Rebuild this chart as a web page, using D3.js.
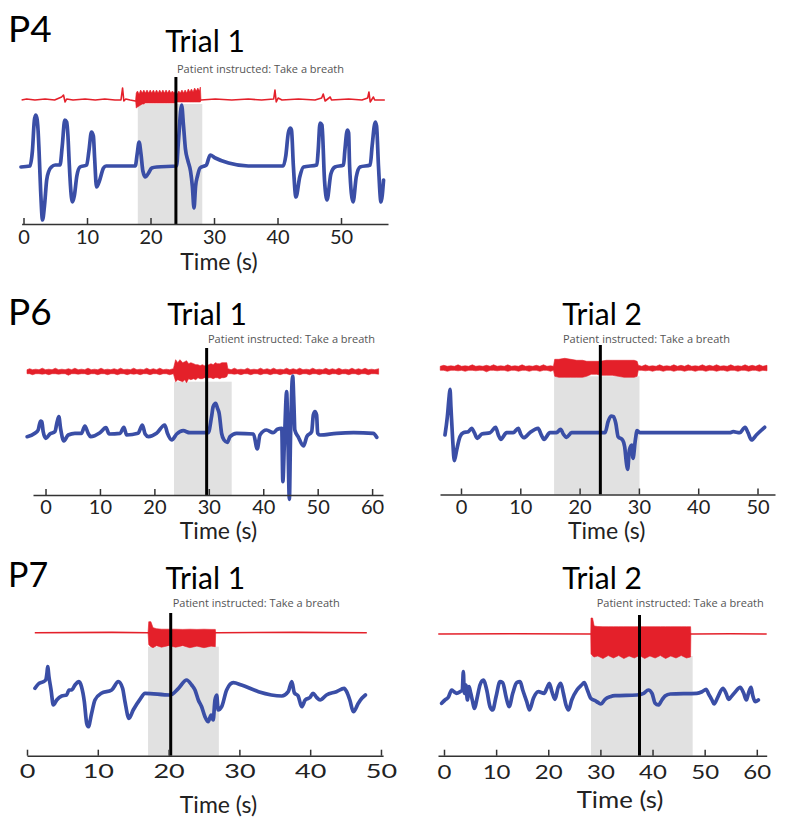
<!DOCTYPE html>
<html><head><meta charset="utf-8">
<script src="https://cdn.jsdelivr.net/npm/d3@7"></script>
<style>body{margin:0;background:#fff}svg{display:block}</style>
</head><body>
<svg id="chart" width="800" height="820"></svg>
<script>
// ---------------- DATA ----------------
const patientLabels = ["P4", "P6", "P7"];
const trialLabels = ["Trial 1", "Trial 1", "Trial 2", "Trial 1", "Trial 2"];
const noteText = "Patient instructed: Take a breath";
const axisTitle = "Time (s)";
const ticksP4 = [0, 10, 20, 30, 40, 50];
const ticksP6T1 = [0, 10, 20, 30, 40, 50, 60];
const ticksP6T2 = [0, 10, 20, 30, 40, 50];
const ticksP7T1 = [0, 10, 20, 30, 40, 50];
const ticksP7T2 = [0, 10, 20, 30, 40, 50, 60];
// time of instruction (s)
const cueTimes = [24.0, 29.6, 23.5, 20.3, 37.5];
// breath-hold windows (s)
const breathWindows = [[18.0, 28.15], [23.6, 34.2], [15.7, 30.1], [17.1, 27.1], [28.2, 47.7]];

// blue traces [t, value]
const p4Blue = [[-0.4,-1],[1.0,0],[1.4,15],[1.7,45],[1.9,51],[2.1,48],[2.3,35],[2.45,15],[2.7,-25],[3.0,-54],[3.3,-40],[3.65,-14],[4.0,-5],[4.4,-1],[5.0,1],[5.75,1],[6.1,20],[6.5,46],[6.8,44],[7.0,30],[7.2,3],[7.4,-20],[7.7,-36],[8.0,-30],[8.4,-10],[8.9,-1],[9.95,1],[10.3,15],[10.7,34],[11.0,30],[11.2,8],[11.5,-21],[11.9,-16],[12.6,-2],[13,0],[17.6,0],[17.9,12],[18.2,24],[18.5,12],[18.8,-5],[19.2,-11],[19.6,-8],[20.2,-2],[21,-1],[24.1,0],[24.4,25],[24.9,61],[25.2,40],[25.5,17],[25.9,5],[26.3,-5],[26.6,-21],[26.85,-42],[27.1,-20],[27.4,-10],[27.8,-2],[28.5,0],[28.8,1],[29.4,11],[30.2,8],[32.3,3],[35.4,0],[40.9,0],[41.3,10],[41.7,33],[42.0,38],[42.2,36],[42.5,0],[42.9,-31],[43.5,-11],[44.1,-1],[46.2,1],[46.4,15],[46.7,43],[47.0,41],[47.4,-14],[47.8,-34],[48.4,-8],[49.05,-1],[50.4,1],[50.6,15],[51.0,36],[51.2,33],[51.35,0],[51.9,-36],[52.4,-11],[53.0,-1],[54.6,1],[54.9,20],[55.4,44],[55.6,40],[55.9,0],[56.3,-36],[56.7,-14]];
const p6t1Blue = [[-3.37,-3.4],[-1.96,0],[-1.35,3.3],[-0.92,12.3],[-0.67,11.6],[-0.43,1.6],[0.06,-5],[0.8,-0.7],[1.72,1.6],[2.14,11.6],[2.45,16.6],[2.76,5],[3.37,-7.7],[4.17,-1.7],[5.4,0],[6.6,0],[7.23,7.3],[7.84,0],[8.27,-3.3],[10.0,0.6],[11.1,5.6],[11.7,-0.7],[13.7,0],[14.4,6],[14.9,-1.7],[17.0,0],[17.8,8.3],[18.3,-0.7],[18.9,-3.3],[20.4,0],[21.9,8.3],[22.4,0],[23.2,-6.7],[24.1,-0.7],[25.3,2.6],[26.5,0.6],[29.9,0.6],[30.5,16.6],[30.8,26.6],[31.25,30],[31.6,25],[31.9,20],[32.35,0],[32.8,-6.7],[33.4,-9],[33.9,-3.3],[35.1,0],[38.2,-0.7],[38.9,-15.7],[39.4,-1.7],[40.6,3.3],[41.8,0.6],[42.6,4],[43.4,5],[43.6,-48.4],[43.9,-6.7],[44.3,41.6],[44.5,3.3],[44.8,-66],[45.0,-6.7],[45.4,57.3],[45.65,26.6],[45.8,3.3],[46.4,-3.3],[47.4,-12.7],[48.0,-3.3],[48.9,1.6],[49.2,18.3],[49.5,21.6],[49.8,18.3],[50.0,0],[50.4,-1.7],[53.5,0],[56.6,0.6],[60.2,0],[60.85,-4]];
const p6t2Blue = [[-2.7,-2.3],[-2.3,16],[-2.0,36],[-1.85,43.4],[-1.7,26],[-1.4,-7.3],[-1.12,-28],[-0.73,-17.3],[-0.17,-4],[0.39,0],[1.24,1],[1.8,4.4],[2.25,0],[2.75,-5.6],[3.5,-1.3],[4.9,0],[5.85,5.4],[6.3,-2.3],[6.7,-6.6],[7.7,0],[8.8,0],[9.66,4.4],[10.06,-1.3],[10.6,-5],[11.6,0],[13.0,4.4],[13.5,-1.6],[14.0,-6.6],[15.0,0],[16.1,0],[16.8,3.4],[17.25,-1.3],[17.8,-4.6],[18.65,0],[24.3,0],[24.8,11],[25.3,16.7],[25.7,16],[26.1,9.4],[26.5,-4],[27.25,-7.3],[27.6,-14],[27.9,-30.6],[28.1,-36.6],[28.4,-17.3],[28.8,-12.3],[29.0,-25.6],[29.4,-7.3],[29.7,2],[30.2,0],[45.3,0],[45.9,1],[47.0,0],[47.9,5.4],[48.4,0],[49.0,-7.3],[49.8,-2.3],[51.2,5.4]];
const p7t1Blue = [[1.13,6.7],[1.6,11],[2.3,13.3],[2.64,15],[2.82,21.7],[2.92,28.3],[3.1,18.3],[3.4,5],[3.72,-10],[4.2,-5],[4.9,-1],[5.6,0],[5.93,5],[6.3,5],[6.78,10],[7.34,13.3],[7.7,8.3],[8.1,-6.7],[8.43,-28.3],[8.66,-31.7],[9.13,-18.3],[9.6,-5],[10.5,1.7],[11.96,5],[12.9,13.3],[13.5,6.7],[13.84,-6.7],[14.4,-23.3],[15.0,-15],[15.96,-4.3],[16.67,1.7],[20.2,0],[21.4,6.7],[22.55,15],[23.26,10],[23.73,5],[24.2,-5],[24.67,-11.7],[25.14,-21.7],[25.6,-26.7],[26.0,-20],[26.3,-25],[26.55,-5],[26.8,0],[27.0,-15],[27.5,-11.7],[28.2,5],[29.14,12.3],[30.3,10],[32.7,3.3],[36.0,-1],[36.9,3.3],[37.4,13.3],[37.76,2.3],[38.3,-1],[38.8,-11.7],[39.3,-5],[40.0,-2.3],[40.4,1.7],[40.9,-2.3],[41.4,-5],[42.3,0],[43.7,3.3],[44.8,6.7],[45.15,3.3],[45.6,-5],[46.1,-16.7],[46.8,-8.3],[47.3,-3.3],[47.8,0]];
const p7t2Blue = [[-0.45,-10.3],[0.19,-7],[0.83,-4.3],[1.47,3],[1.92,1.3],[2.43,-0.3],[3.07,1.3],[3.52,3],[3.71,21.3],[3.9,-0.3],[4.22,8],[4.48,-7],[4.8,6.3],[5.12,0],[5.5,-8.7],[5.82,-15.3],[6.4,-3.7],[6.9,8],[7.55,13],[8.2,3],[8.83,-13.7],[9.34,-17],[9.98,-3.7],[10.75,11.3],[11.26,10.3],[11.9,-3.7],[12.48,-13.7],[13.2,0],[13.95,10.3],[14.6,11.3],[15.1,3],[15.87,-8.7],[16.4,-17],[17.15,-5.3],[18.1,1.3],[19.2,-0.3],[19.8,5.7],[20.2,9.7],[20.7,1.3],[21.3,-6.3],[21.9,5.7],[22.4,9.7],[22.9,-0.3],[23.4,-12],[23.9,-17],[24.5,-7],[25.5,3],[26.4,8],[26.9,10.3],[27.5,3],[28.15,-5.3],[29.0,-7.7],[29.6,-9.7],[30.1,-11],[30.9,-6.3],[31.9,-3.7],[32.8,-2.7],[37.0,-2],[38.3,-0.3],[39.2,3],[39.9,-0.3],[40.5,-10.3],[41.1,-12],[41.8,-7],[42.4,-3],[43.4,-1],[48.5,-0.3],[49.5,1.3],[50.3,3.7],[50.7,-0.3],[51.4,-7],[51.8,-11],[52.5,-4.3],[53.5,4.7],[54.1,-0.3],[54.6,-6.3],[55.0,-4.3],[55.9,1.3],[56.8,5.7],[57.45,0.3],[58.0,-7],[58.4,-0.3],[58.9,5.7],[59.2,-2],[59.7,-8.7],[60.3,-7]];

// red traces: thin line [t, value]
const p4RedLine = [[-0.3,0],[0.5,1],[1.8,0],[3.4,1],[4.9,0],[6.0,3],[6.3,5],[6.55,-2],[6.8,1],[7.8,0],[9.7,1],[11.3,0],[12.8,1],[14.4,0],[15.35,0],[15.6,12],[15.8,-1],[16.1,1],[16.8,0],[17.6,-1],[27.95,0],[30.2,1],[32.8,0],[35.4,1],[37.5,0],[39.4,1],[39.6,10],[39.8,-2],[40.1,2],[40.7,0],[43.3,1],[45.9,0],[46.95,2],[47.2,6],[47.5,-1],[48.3,3],[48.5,0],[51.2,1],[53.3,0],[54.2,2],[54.4,8],[54.6,-2],[55.1,3],[55.3,0],[56.9,0]];
const p7t1RedLine = [[1.1,0],[12,0.3],[17.1,0],[27,0],[38,0.3],[48,0]];
const p7t2RedLine = [[-1.1,0],[14,0.3],[28.1,0],[48,0],[55,0.3],[61.9,0]];
// red dense activity envelopes [t, upper, lower]
const p4RedEnv = [[17.65,0,0],[17.75,7,-8],[17.95,9,-7],[18.2,6,-6],[18.45,10,-5],[18.7,7,-4],[18.95,10,-4],[19.2,7,-3],[19.45,10,-3],[19.7,7,-3],[19.95,10,-3],[20.2,7,-3],[20.45,10,-3],[20.7,7,-3],[20.95,10,-3],[21.2,7,-3],[21.45,10,-3],[21.7,7,-3],[21.95,10,-3],[22.2,7,-3],[22.45,10,-3],[22.7,7,-3],[22.95,10,-3],[23.2,7,-3],[23.45,9,-3],[23.7,7,-3],[23.95,9,-3],[24.2,6,-2],[24.45,9,-2],[24.7,7,-2],[24.95,10,-2],[25.2,7,-2],[25.45,10,-2],[25.7,7,-2],[25.95,11,-2],[26.2,8,-2],[26.45,11,-2],[26.7,8,-2],[26.95,12,-2],[27.2,9,-2],[27.45,12,-2],[27.7,9,-2],[27.85,13,-2],[27.95,0,0]];
const p6t1RedEnv = [[-3.4,2,-2],[-2.9,3,-2],[-2.4,2,-3],[-1.8,2.5,-2],[-1.2,2,-2],[-0.6,3.5,-2.5],[0,2,-2],[0.6,2.5,-3],[1.2,2,-2],[1.8,3.5,-2],[2.4,2,-2.5],[3,2.5,-2],[3.6,2,-2],[4.2,3,-3.5],[4.8,2,-2],[5.4,3.5,-2],[6,2,-2.5],[6.6,2.5,-2],[7.2,2,-2],[7.8,3.5,-3],[8.4,2,-2],[9,2.5,-2],[9.6,2,-3],[10.2,3.5,-2],[10.8,2,-2],[11.4,2.5,-3],[12,2,-2],[12.6,3,-2],[13.2,2,-3],[13.8,3.5,-2],[14.4,2,-2],[15,2.5,-3],[15.6,2,-2],[16.2,3.5,-2.5],[16.8,2,-2],[17.4,2.5,-3],[18,2,-2],[18.6,3.5,-2],[19.2,2,-3],[19.8,3,-2],[20.4,2,-2],[21,3.5,-3],[21.6,2,-2],[22.2,2.5,-2],[22.8,2,-3],[23.5,3,-2],[23.9,12,-10],[24.3,9,-8],[24.7,12,-9],[25.2,9,-10],[25.6,10,-8],[25.9,11,-11],[26.3,8,-7],[26.7,9,-8],[27.2,8,-7],[27.6,7,-8],[28,7,-6],[28.4,6,-7],[28.8,7,-7],[29.2,6,-6],[29.6,6,-7],[30,7,-6],[30.4,8,-6],[30.8,7,-7],[31.2,9,-6],[31.6,8,-6],[32,8,-7],[32.4,9,-6],[32.8,9,-6],[33.3,9,-5],[33.5,3,-2],[34.1,2,-2],[34.7,3.5,-2.5],[35.3,2,-2],[35.9,2.5,-3],[36.5,2,-2],[37.1,3.5,-2],[37.7,2,-3],[38.3,2.5,-2],[38.9,2,-2],[39.5,3.5,-3],[40.1,2,-2],[40.7,3,-2],[41.3,2,-3],[41.9,3.5,-2],[42.5,2,-2],[43.1,2.5,-3],[43.7,2,-2],[44.3,3.5,-2],[44.9,2,-3],[45.5,3,-2],[46.1,2,-2],[46.7,3.5,-3],[47.3,2,-2],[47.9,2.5,-2],[48.5,2,-3],[49.1,3.5,-2],[49.7,2,-2],[50.3,2.5,-3],[50.9,2,-2],[51.5,3.5,-2],[52.1,2,-3],[52.7,3,-2],[53.3,2,-2],[53.9,3.5,-3],[54.5,2,-2],[55.1,2.5,-2],[55.7,2,-3],[56.3,3.5,-2],[56.9,2,-2],[57.5,3,-3],[58.1,2,-2],[58.7,3.5,-2],[59.3,2,-3],[59.9,2.5,-2],[60.5,2,-2],[61.2,3,-2.5]];
const p6t2RedEnv = [[-3.5,2,-2],[-2.9,3,-2],[-2.3,2,-3],[-1.7,2.5,-2],[-1.1,2,-2],[-0.5,3.5,-2.5],[0.1,2,-2],[0.7,2.5,-3],[1.3,2,-2],[1.9,3.5,-2],[2.5,2,-2.5],[3.1,2.5,-2],[3.7,2,-2],[4.3,3,-3.5],[4.9,2,-2],[5.5,3.5,-2],[6.1,2,-2.5],[6.7,2.5,-2],[7.3,2,-2],[7.9,3.5,-3],[8.5,2,-2],[9.1,2.5,-2],[9.7,2,-3],[10.3,3.5,-2],[10.9,2,-2],[11.5,2.5,-3],[12.1,2,-2],[12.7,3,-2],[13.3,2,-3],[13.9,3.5,-2],[14.5,2,-2],[15.1,2.5,-3],[15.6,2,-2],[15.8,9,-8],[16.5,9,-9],[17.5,10,-9],[18.5,9,-9],[19.5,8,-9],[20.5,8,-9],[21.2,7,-8],[22,7,-6],[22.9,7,-6],[23.5,7,-7],[24.5,8,-7],[25.5,8,-7],[26.5,8,-8],[27.5,8,-9],[28.5,8,-9],[29.2,8,-9],[29.7,7,-8],[29.9,3,-2],[30.5,2,-2],[31.1,3.5,-2.5],[31.7,2,-2],[32.3,2.5,-3],[32.9,2,-2],[33.5,3.5,-2],[34.1,2,-3],[34.7,2.5,-2],[35.3,2,-2],[35.9,3.5,-3],[36.5,2,-2],[37.1,3,-2],[37.7,2,-3],[38.3,3.5,-2],[38.9,2,-2],[39.5,2.5,-3],[40.1,2,-2],[40.7,3.5,-2],[41.3,2,-3],[41.9,3,-2],[42.5,2,-2],[43.1,3.5,-3],[43.7,2,-2],[44.3,2.5,-2],[44.9,2,-3],[45.5,3.5,-2],[46.1,2,-2],[46.7,2.5,-3],[47.3,2,-2],[47.9,3.5,-2],[48.5,2,-3],[49.1,3,-2],[49.7,2,-2],[50.3,3.5,-3],[50.9,2,-2],[51.6,3,-2.5]];
const p7t1RedEnv = [[17.1,0,0],[17.2,11,-12],[17.5,11,-14],[17.8,5,-15],[18.3,4,-13],[19,3.5,-14.5],[20,3.5,-13],[21,3.5,-14.5],[22,3.3,-13],[23,3.5,-15],[24,3.3,-13.5],[25,3.5,-15],[26,3.3,-13.5],[26.6,3.3,-14],[26.65,0,0]];
const p7t2RedEnv = [[28.15,0,0],[28.2,16,-20],[28.5,16,-22],[28.8,8,-23],[29.5,7.5,-22],[30.5,7.3,-24.5],[31.5,7.3,-21.5],[32.5,7.3,-24],[33.5,7.3,-21.5],[34.5,7.3,-24.5],[35.5,7.3,-22],[36.5,7.3,-24],[37.5,7.3,-21.5],[38.5,7.3,-24.5],[39.5,7.3,-22],[40.5,7.3,-24],[41.5,7.3,-21.5],[42.5,7.3,-24.5],[43.5,7.3,-22],[44.5,7.3,-24],[45.5,7.3,-21.5],[46.5,7.3,-24],[47.3,7.3,-23],[47.35,0,0]];

// ---------------- LAYOUT ----------------
const FONT = "Lato, 'Open Sans', sans-serif";
const NOTE_FONT = "'Open Sans', 'Noto Sans', sans-serif";
const BLUE = "#3a4ea6", RED = "#e4202a", GRAY = "#e1e1e1";

const panels = [
  {blue:p4Blue, redLine:p4RedLine, redEnv:p4RedEnv, ticks:ticksP4, idx:0,
   xDomain:[-0.3,57.4], xRange:[21.6,388], axisY:224, blueZero:166, redZero:100, grayTop:-4, cueTop:77,
   trial:[205,52], note:[177,73], title:[219,270], tickPad:6, tickStretch:1, titleStretch:1},
  {blue:p6t1Blue, redLine:[], redEnv:p6t1RedEnv, ticks:ticksP6T1, idx:1,
   xDomain:[-2.3,62], xRange:[33,383], axisY:495, blueZero:433.3, redZero:371.7, grayTop:-10, cueTop:348,
   trial:[207,325], note:[208,343], title:[218.5,539], tickPad:5, tickStretch:1, titleStretch:1},
  {blue:p6t2Blue, redLine:[], redEnv:p6t2RedEnv, ticks:ticksP6T2, idx:2,
   xDomain:[-3.54,52.95], xRange:[440,775], axisY:494.5, blueZero:432.7, redZero:368.3, grayTop:-8, cueTop:345,
   trial:[602,325], note:[563,343], title:[606.7,539], tickPad:5, tickStretch:1, titleStretch:1},
  {blue:p7t1Blue, redLine:p7t1RedLine, redEnv:p7t1RedEnv, ticks:ticksP7T1, idx:3,
   xDomain:[0,50.3], xRange:[27,383.1], axisY:755.7, blueZero:695, redZero:632.7, grayTop:-14, cueTop:613,
   trial:[205.3,589], note:[172.7,606.7], title:[218.5,813], tickPad:8, tickStretch:1.35, titleStretch:1},
  {blue:p7t2Blue, redLine:p7t2RedLine, redEnv:p7t2RedEnv, ticks:ticksP7T2, idx:4,
   xDomain:[-1.15,61.9], xRange:[438,766.7], axisY:755.7, blueZero:693, redZero:634, grayTop:-22, cueTop:615,
   trial:[602,589], note:[596.7,606.7], title:[620,808], tickPad:9, tickStretch:1.2, titleStretch:1.12}
];
const patientLabelPos = [[8,42,37],[8,325,37],[8,587,34]];

const svg = d3.select("#chart");

patientLabels.forEach((lab, i) => {
  svg.append("text").attr("x", patientLabelPos[i][0]).attr("y", patientLabelPos[i][1])
    .attr("font-family", FONT).attr("font-size", patientLabelPos[i][2]).attr("fill", "#000").text(lab);
});

panels.forEach(p => {
  const x = d3.scaleLinear().domain(p.xDomain).range(p.xRange);
  const yB = d3.scaleLinear().domain([-50, 50]).range([p.blueZero + 50, p.blueZero - 50]);
  const yR = d3.scaleLinear().domain([-20, 20]).range([p.redZero + 20, p.redZero - 20]);
  const g = svg.append("g");
  const win = breathWindows[p.idx];

  g.append("rect")
    .attr("x", x(win[0])).attr("width", x(win[1]) - x(win[0]))
    .attr("y", yR(p.grayTop)).attr("height", p.axisY - yR(p.grayTop))
    .attr("fill", GRAY);

  if (p.redLine.length) {
    g.append("path").datum(p.redLine)
      .attr("d", d3.line().x(d => x(d[0])).y(d => yR(d[1])))
      .attr("fill", "none").attr("stroke", RED).attr("stroke-width", 1.6).attr("stroke-linejoin", "round");
  }
  g.append("path").datum(p.redEnv)
    .attr("d", d3.area().x(d => x(d[0])).y0(d => yR(d[2])).y1(d => yR(d[1])))
    .attr("fill", RED).attr("stroke", RED).attr("stroke-width", 0.6);

  g.append("path").datum(p.blue)
    .attr("d", d3.line().x(d => x(d[0])).y(d => yB(d[1])).curve(d3.curveMonotoneX))
    .attr("fill", "none").attr("stroke", BLUE).attr("stroke-width", 3.7)
    .attr("stroke-linejoin", "round").attr("stroke-linecap", "round");

  g.append("line")
    .attr("x1", x(cueTimes[p.idx])).attr("x2", x(cueTimes[p.idx]))
    .attr("y1", p.cueTop).attr("y2", p.axisY)
    .attr("stroke", "#000").attr("stroke-width", 3);

  const ax = g.append("g").attr("transform", `translate(0,${p.axisY})`)
    .call(d3.axisBottom(x).tickValues(p.ticks).tickSizeInner(-6).tickSizeOuter(0).tickPadding(p.tickPad));
  ax.select(".domain").attr("stroke", "#333").attr("stroke-width", 1.6);
  ax.selectAll(".tick line").attr("stroke", "#333").attr("stroke-width", 1.5);
  ax.selectAll(".tick text").attr("font-family", FONT).attr("font-size", 20).attr("fill", "#222")
    .attr("transform", `scale(${p.tickStretch},1)`);

  g.append("text").attr("x", p.title[0]).attr("y", p.title[1])
    .attr("text-anchor", "middle").attr("font-family", FONT).attr("font-size", 23).attr("fill", "#222")
    .attr("transform", `translate(${p.title[0]},0) scale(${p.titleStretch},1) translate(${-p.title[0]},0)`)
    .text(axisTitle);

  g.append("text").attr("x", p.trial[0]).attr("y", p.trial[1])
    .attr("text-anchor", "middle").attr("font-family", FONT).attr("font-size", 30).attr("fill", "#000")
    .text(trialLabels[p.idx]);

  g.append("text").attr("x", p.note[0]).attr("y", p.note[1])
    .attr("font-family", NOTE_FONT).attr("font-size", 11).attr("fill", "#555")
    .text(noteText);
});
</script>
</body></html>
